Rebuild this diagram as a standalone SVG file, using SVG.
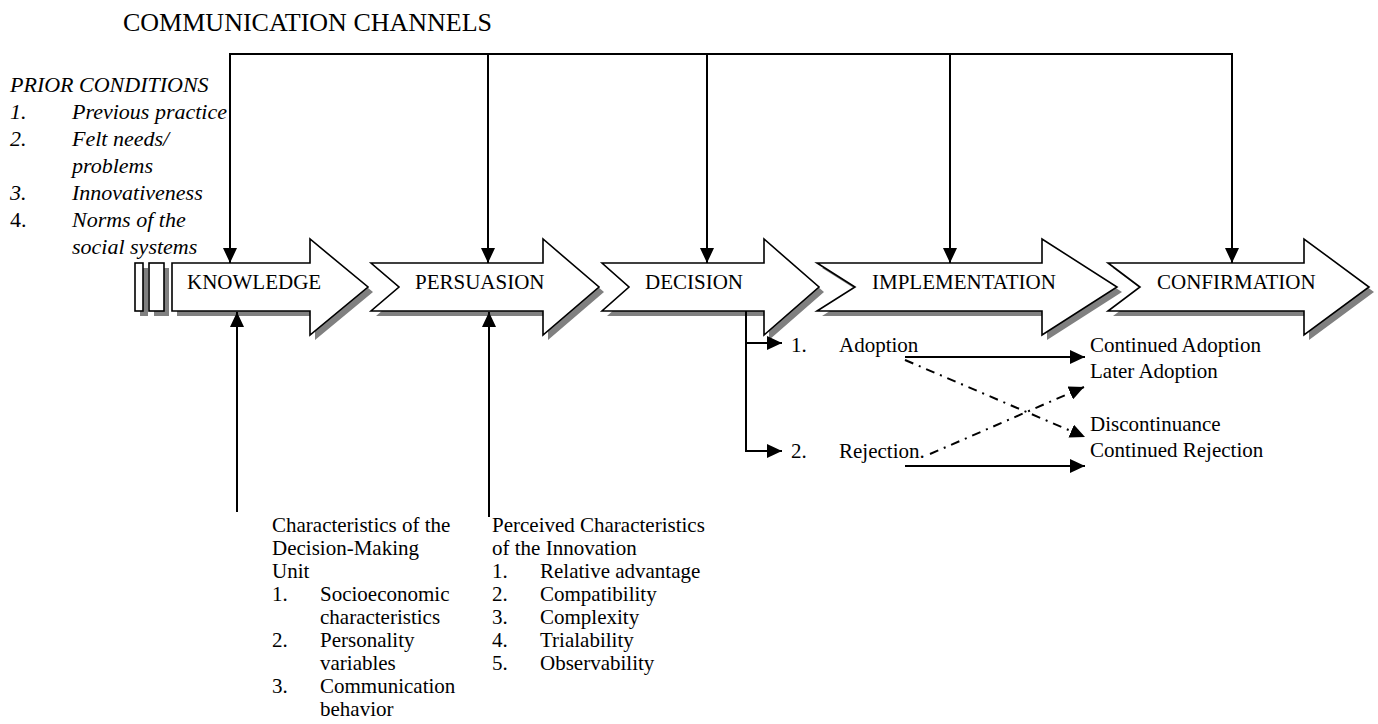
<svg xmlns="http://www.w3.org/2000/svg" width="1378" height="724" viewBox="0 0 1378 724">
<style>
text{font-family:"Liberation Serif","Times New Roman",serif;font-size:21px;fill:#000}
.it{font-style:italic;font-size:22px}
.ttl{font-size:26px}
.shape{fill:#fff;stroke:#000;stroke-width:1.6}
.shadow{fill:#808080;stroke:none}
.ln{fill:none;stroke:#000;stroke-width:2}
.dd{fill:none;stroke:#000;stroke-width:2;stroke-dasharray:9 6 2 6}
</style>
<defs>
<marker id="ah" markerUnits="userSpaceOnUse" markerWidth="16" markerHeight="14" refX="15" refY="7" orient="auto">
<path d="M0,0 L15,7 L0,14 z" fill="#000"/>
</marker>
</defs>
<rect width="1378" height="724" fill="#fff"/>

<g id="title"><text class="ttl" x="123" y="31">COMMUNICATION CHANNELS</text></g>

<g id="prior-conditions">
<text class="it" x="10" y="92">PRIOR CONDITIONS</text>
<text class="it" x="10" y="119">1.</text><text class="it" x="72" y="119">Previous practice</text>
<text class="it" x="10" y="146">2.</text><text class="it" x="72" y="146">Felt needs/</text>
<text class="it" x="72" y="173">problems</text>
<text class="it" x="10" y="200">3.</text><text class="it" x="72" y="200">Innovativeness</text>
<text x="10" y="227" style="font-size:22px">4.</text><text class="it" x="72" y="227">Norms of the</text>
<text class="it" x="72" y="254">social systems</text>
</g>

<g id="bars">
<rect class="shadow" x="140" y="268" width="8" height="48"/>
<rect class="shadow" x="154" y="268" width="15" height="48"/>
<rect class="shape" x="135" y="263" width="8" height="48"/>
<rect class="shape" x="149" y="263" width="15" height="48"/>
</g>

<g id="knowledge">
<polygon class="shadow" transform="translate(5,5)" points="172,263 310,263 310,239 368,287 310,335 310,311 172,311"/>
<polygon class="shape" points="172,263 310,263 310,239 368,287 310,335 310,311 172,311"/>
<text x="187" y="289">KNOWLEDGE</text>
</g>

<g id="persuasion">
<polygon class="shadow" transform="translate(5,5)" points="371,263 543,263 543,239 599,287 543,335 543,311 371,311 399,287"/>
<polygon class="shape" points="371,263 543,263 543,239 599,287 543,335 543,311 371,311 399,287"/>
<text x="415" y="289">PERSUASION</text>
</g>

<g id="decision">
<polygon class="shadow" transform="translate(5,5)" points="602,263 764,263 764,239 819,287 764,335 764,311 602,311 629,287"/>
<polygon class="shape" points="602,263 764,263 764,239 819,287 764,335 764,311 602,311 629,287"/>
<text x="645" y="289">DECISION</text>
</g>

<g id="implementation">
<polygon class="shadow" transform="translate(5,5)" points="817,263 1042,263 1042,239 1117,287 1042,335 1042,311 817,311 855,287"/>
<polygon class="shape" points="817,263 1042,263 1042,239 1117,287 1042,335 1042,311 817,311 855,287"/>
<text x="872" y="289">IMPLEMENTATION</text>
</g>

<g id="confirmation">
<polygon class="shadow" transform="translate(5,5)" points="1108,263 1304,263 1304,239 1369,287 1304,335 1304,311 1108,311 1140,287"/>
<polygon class="shape" points="1108,263 1304,263 1304,239 1369,287 1304,335 1304,311 1108,311 1140,287"/>
<text x="1157" y="289">CONFIRMATION</text>
</g>

<g id="outcomes">
<text x="791" y="352">1.</text><text x="839" y="352">Adoption</text>
<text x="791" y="458">2.</text><text x="839" y="458">Rejection.</text>
<text x="1090" y="352">Continued Adoption</text>
<text x="1090" y="378">Later Adoption</text>
<text x="1090" y="431">Discontinuance</text>
<text x="1090" y="457">Continued Rejection</text>
</g>

<g id="dmu">
<text x="272" y="532">Characteristics of the</text>
<text x="272" y="555">Decision-Making</text>
<text x="272" y="578">Unit</text>
<text x="272" y="601">1.</text><text x="320" y="601">Socioeconomic</text>
<text x="320" y="624">characteristics</text>
<text x="272" y="647">2.</text><text x="320" y="647">Personality</text>
<text x="320" y="670">variables</text>
<text x="272" y="693">3.</text><text x="320" y="693">Communication</text>
<text x="320" y="716">behavior</text>
</g>

<g id="innovation">
<text x="492" y="532">Perceived Characteristics</text>
<text x="492" y="555">of the Innovation</text>
<text x="492" y="578">1.</text><text x="540" y="578">Relative advantage</text>
<text x="492" y="601">2.</text><text x="540" y="601">Compatibility</text>
<text x="492" y="624">3.</text><text x="540" y="624">Complexity</text>
<text x="492" y="647">4.</text><text x="540" y="647">Trialability</text>
<text x="492" y="670">5.</text><text x="540" y="670">Observability</text>
</g>

<g id="connectors">
<polyline class="ln" points="230,263 230,54 1232,54 1232,263" marker-end="url(#ah)"/>
<line class="ln" x1="230" y1="60" x2="230" y2="263" marker-end="url(#ah)"/>
<line class="ln" x1="488" y1="54" x2="488" y2="263" marker-end="url(#ah)"/>
<line class="ln" x1="707" y1="54" x2="707" y2="263" marker-end="url(#ah)"/>
<line class="ln" x1="950" y1="54" x2="950" y2="263" marker-end="url(#ah)"/>
<line class="ln" x1="237" y1="512" x2="237" y2="312" marker-end="url(#ah)"/>
<line class="ln" x1="489" y1="517" x2="489" y2="312" marker-end="url(#ah)"/>
<polyline class="ln" points="746,311 746,451 782,451" marker-end="url(#ah)"/>
<line class="ln" x1="746" y1="343" x2="782" y2="343" marker-end="url(#ah)"/>
<line class="ln" x1="905" y1="357" x2="1085" y2="357" marker-end="url(#ah)"/>
<line class="ln" x1="905" y1="466" x2="1085" y2="466" marker-end="url(#ah)"/>
<line class="dd" x1="905" y1="360" x2="1085" y2="437" marker-end="url(#ah)"/>
<line class="dd" x1="930" y1="454" x2="1084" y2="387" marker-end="url(#ah)"/>
</g>
</svg>
